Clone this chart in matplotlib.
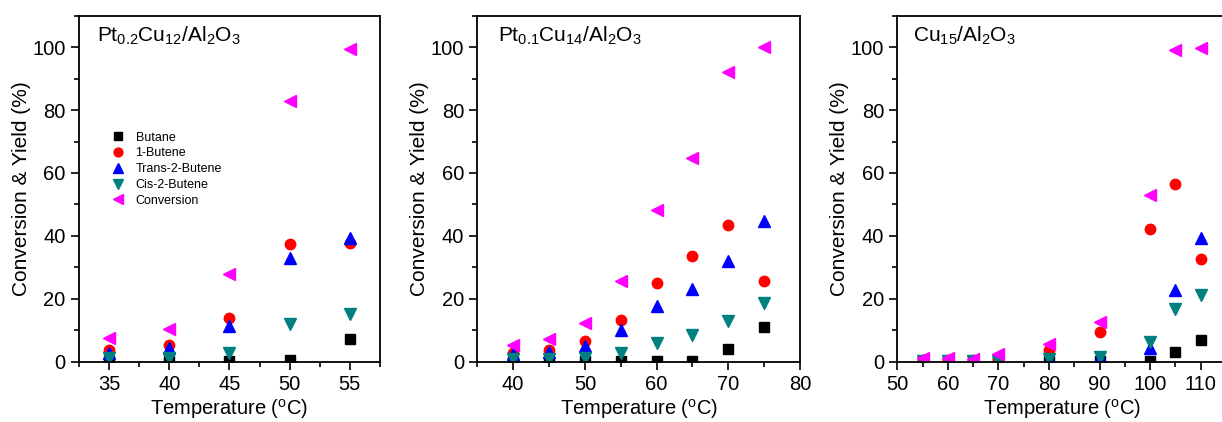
import numpy as np
import matplotlib
matplotlib.use('Agg')
import matplotlib.pyplot as plt
from matplotlib.ticker import MultipleLocator

plt.rcParams['font.family'] = ['Liberation Sans', 'DejaVu Sans']
plt.rcParams['mathtext.fontset'] = 'custom'
plt.rcParams['mathtext.rm'] = 'Liberation Sans'
plt.rcParams['mathtext.it'] = 'Liberation Sans'

# Panel 1: Pt0.2Cu12/Al2O3
t1 = [35, 40, 45, 50, 55]
butane1 = [0.3, 0.3, 0.2, 0.6, 7.1]
butene1_1 = [3.7, 5.3, 13.8, 37.4, 37.7]
trans1 = [2.9, 4.5, 11.4, 33.1, 39.3]
cis1 = [1.1, 1.1, 2.9, 12.0, 15.2]
conv1 = [7.4, 10.3, 27.9, 82.8, 99.5]

# Panel 2: Pt0.1Cu14/Al2O3
t2 = [40, 45, 50, 55, 60, 65, 70, 75]
butane2 = [0.3, 0.3, 0.3, 0.3, 0.3, 0.3, 3.9, 10.9]
butene1_2 = [2.7, 3.7, 6.6, 13.3, 24.9, 33.5, 43.6, 25.7]
trans2 = [2.3, 3.2, 5.0, 10.0, 17.8, 23.1, 32.1, 44.7]
cis2 = [1.0, 1.0, 1.2, 2.7, 6.1, 8.4, 13.0, 18.8]
conv2 = [5.3, 7.3, 12.2, 25.7, 48.3, 64.8, 92.2, 100.0]

# Panel 3: Cu15/Al2O3
t3 = [55, 60, 65, 70, 80, 90, 100, 105, 110]
butane3 = [0.1, 0.1, 0.1, 0.1, 0.1, 0.1, 0.3, 3.2, 6.8]
butene1_3 = [0.5, 0.5, 0.5, 1.0, 3.7, 9.3, 42.3, 56.4, 32.5]
trans3 = [0.3, 0.3, 0.3, 0.3, 1.0, 1.6, 4.5, 22.9, 39.3]
cis3 = [0.3, 0.3, 0.3, 0.3, 0.7, 1.5, 6.4, 16.7, 21.3]
conv3 = [1.1, 1.3, 1.0, 2.3, 5.5, 12.5, 53.1, 99.0, 99.8]

labels = ['Butane', '1-Butene', 'Trans-2-Butene', 'Cis-2-Butene', 'Conversion']
markers = ['s', 'o', '^', 'v', '<']
colors = ['black', 'red', 'blue', '#008080', 'magenta']
sizes = [6.5, 7.5, 8, 8, 8]

panels = [
    (t1, [butane1, butene1_1, trans1, cis1, conv1], r'$\mathrm{Pt_{0.2}Cu_{12}/Al_2O_3}$',
     (32.5, 57.5), 5, 2.5, [0.0646, 0.2463], 0.06),
    (t2, [butane2, butene1_2, trans2, cis2, conv2], r'$\mathrm{Pt_{0.1}Cu_{14}/Al_2O_3}$',
     (35, 80), 10, 5, [0.3906, 0.2641], 0.064),
    (t3, [butane3, butene1_3, trans3, cis3, conv3], r'$\mathrm{Cu_{15}/Al_2O_3}$',
     (50, 115), 10, 5, [0.7343, 0.269], 0.048),
]

fig = plt.figure(figsize=(12.22, 4.22), dpi=100)

for i, (t, series, title, xlim, major, minor, pos, tx) in enumerate(panels):
    ax = fig.add_axes([pos[0], 0.1429, pos[1], 0.8199])
    for vals, lab, m, c, ms in zip(series, labels, markers, colors, sizes):
        ax.plot(t, vals, ls='none', marker=m, color=c, ms=ms, mec=c, label=lab)
    ax.set_xlim(*xlim)
    ax.set_ylim(0, 110)
    ax.xaxis.set_major_locator(MultipleLocator(major))
    ax.xaxis.set_minor_locator(MultipleLocator(minor))
    ax.yaxis.set_major_locator(MultipleLocator(20))
    ax.yaxis.set_minor_locator(MultipleLocator(10))
    ax.set_yticks([0, 20, 40, 60, 80, 100])
    ax.tick_params(which='major', direction='out', length=6, width=1.2, labelsize=14.5)
    ax.tick_params(which='minor', direction='out', length=3.5, width=1.2)
    for sp in ax.spines.values():
        sp.set_linewidth(1.3)
    ax.set_xlabel('Temperature ($\\mathrm{^oC}$)', fontsize=14.5, labelpad=2)
    ax.set_ylabel('Conversion & Yield (%)', fontsize=15, labelpad=1)
    ax.text(tx, 0.975, title, transform=ax.transAxes, ha='left', va='top', fontsize=15)
    if i == 0:
        ax.legend(loc='upper left', bbox_to_anchor=(0.08, 0.69), frameon=False,
                  fontsize=9, handletextpad=0.9, labelspacing=0.3,
                  markerscale=0.85, handlelength=1.0, borderpad=0.2)

fig.savefig('out.png', dpi=100)
